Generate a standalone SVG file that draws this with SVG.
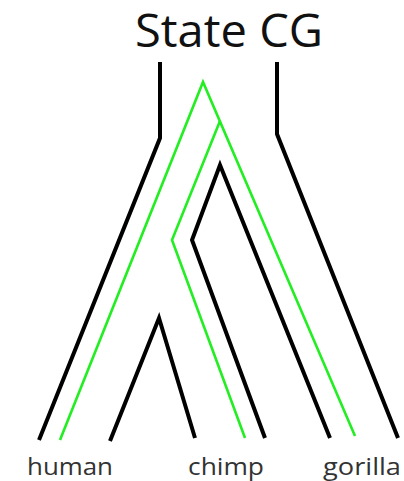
<svg xmlns="http://www.w3.org/2000/svg" width="404" height="481" viewBox="0 0 404 481">
<style>
.blk{fill:none;stroke:#000;stroke-width:4;stroke-linejoin:miter}
.grn{fill:none;stroke:#22ee22;stroke-width:2.6;stroke-linejoin:miter}
.lbl{font-family:"Open Sans","Liberation Sans",sans-serif;font-size:24px;fill:#333}
.ttl{font-family:"Open Sans","Liberation Sans",sans-serif;font-size:45px;fill:#111}
</style>
<rect width="404" height="481" fill="#fff"/>
<g id="title"><text class="ttl" x="135" y="47" textLength="188" lengthAdjust="spacingAndGlyphs">State CG</text></g>
<g id="connectors">
<polyline class="blk" points="160,62 160,138 39,440"/>
<polyline class="blk" points="277,62 277,134 398,438"/>
<polyline class="grn" points="60,440 203,82 355,436"/>
<polyline class="grn" points="220,121 172,240 245,438"/>
<polyline class="blk" points="330,438 220,165 192,240 265,438"/>
<polyline class="blk" points="110,441 159,318 195,438"/>
</g>
<g id="human"><text class="lbl" x="27" y="475" textLength="86" lengthAdjust="spacingAndGlyphs">human</text></g>
<g id="chimp"><text class="lbl" x="188" y="475" textLength="76" lengthAdjust="spacingAndGlyphs">chimp</text></g>
<g id="gorilla"><text class="lbl" x="323" y="475" textLength="78" lengthAdjust="spacingAndGlyphs">gorilla</text></g>
</svg>
